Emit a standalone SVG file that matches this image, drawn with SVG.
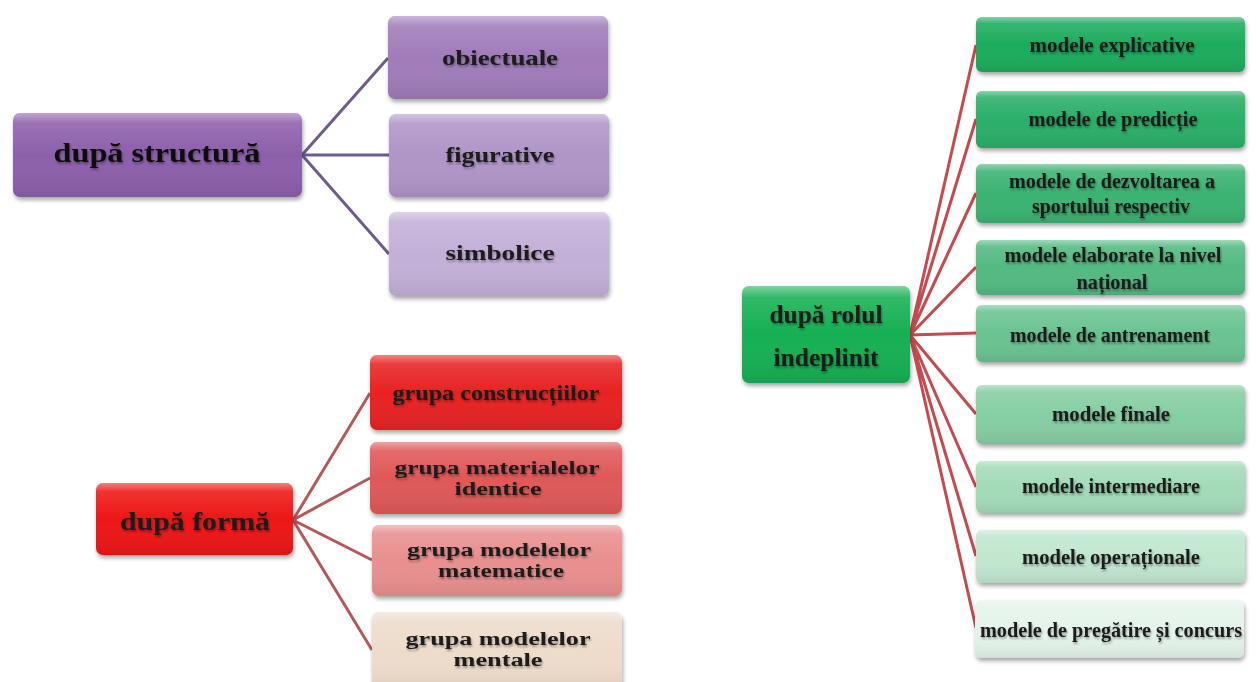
<svg xmlns="http://www.w3.org/2000/svg" width="1256" height="682" viewBox="0 0 1256 682">
<defs>
<linearGradient id="gloss" x1="0" y1="0" x2="0" y2="1">
<stop offset="0" stop-color="#fff" stop-opacity="0.45"/>
<stop offset="0.12" stop-color="#fff" stop-opacity="0.12"/>
<stop offset="0.5" stop-color="#fff" stop-opacity="0"/>
<stop offset="1" stop-color="#000" stop-opacity="0.08"/>
</linearGradient>
<filter id="sh" x="-10%" y="-10%" width="120%" height="130%">
<feGaussianBlur in="SourceAlpha" stdDeviation="2"/>
<feOffset dx="1" dy="3" result="b"/>
<feComponentTransfer><feFuncA type="linear" slope="0.35"/></feComponentTransfer>
<feMerge><feMergeNode/><feMergeNode in="SourceGraphic"/></feMerge>
</filter>
<filter id="tsh" x="-5%" y="-20%" width="110%" height="140%">
<feGaussianBlur in="SourceAlpha" stdDeviation="1"/>
<feOffset dx="1" dy="1.5"/>
<feComponentTransfer><feFuncA type="linear" slope="0.35"/></feComponentTransfer>
<feMerge><feMergeNode/><feMergeNode in="SourceGraphic"/></feMerge>
</filter>
</defs>
<style>
text{font-family:"Liberation Serif","Times New Roman",serif;font-weight:bold;fill:#1a1a1a;text-anchor:middle;filter:url(#tsh)}
.root{font-size:28px;fill:#111}
.c{font-size:22px}
.c2{font-size:18px}
.g{font-size:21px}
.box{filter:url(#sh)}
.gl{fill:url(#gloss)}
.lp{stroke:#6f5b8c;stroke-width:3;fill:none}
.lr{stroke:#b45858;stroke-width:3;fill:none}
.lg{stroke:#c44a4e;stroke-width:3;fill:none}
</style>
<rect width="1256" height="682" fill="#fff"/>

<g id="connectors">
<path class="lp" d="M302 155 L388 58 M302 155 L389 155 M302 155 L389 254"/>
<path class="lr" d="M293 520 L370 393 M293 520 L370 478 M293 520 L372 560 M293 520 L372 650"/>
<path class="lg" d="M910 335 L976 45 M910 335 L976 119 M910 335 L976 193 M910 335 L976 267 M910 335 L976 333 M910 335 L976 414 M910 335 L976 487 M910 335 L976 556 M910 335 L976 628"/>
</g>

<g id="n-structura">
<rect class="box" x="13" y="113" width="289" height="84" rx="7" fill="#8c5fab"/>
<rect class="gl" x="13" y="113" width="289" height="84" rx="7"/>
<text class="root" x="157" y="162" textLength="207" lengthAdjust="spacingAndGlyphs">după structură</text>
</g>
<g id="n-obiectuale">
<rect class="box" x="388" y="16" width="220" height="83" rx="7" fill="#a07bb9"/>
<rect class="gl" x="388" y="16" width="220" height="83" rx="7"/>
<text class="c" x="500" y="65" textLength="116" lengthAdjust="spacingAndGlyphs">obiectuale</text>
</g>
<g id="n-figurative">
<rect class="box" x="389" y="114" width="220" height="83" rx="7" fill="#b095c8"/>
<rect class="gl" x="389" y="114" width="220" height="83" rx="7"/>
<text class="c" x="500" y="162" textLength="109" lengthAdjust="spacingAndGlyphs">figurative</text>
</g>
<g id="n-simbolice">
<rect class="box" x="389" y="212" width="220" height="84" rx="7" fill="#c3b0d8"/>
<rect class="gl" x="389" y="212" width="220" height="84" rx="7"/>
<text class="c" x="500" y="260" textLength="109" lengthAdjust="spacingAndGlyphs">simbolice</text>
</g>

<g id="n-forma">
<rect class="box" x="96" y="483" width="197" height="72" rx="7" fill="#ee1616"/>
<rect class="gl" x="96" y="483" width="197" height="72" rx="7"/>
<text class="c" x="195" y="530" style="font-size:25px" textLength="150" lengthAdjust="spacingAndGlyphs">după formă</text>
</g>
<g id="n-constructiilor">
<rect class="box" x="370" y="355" width="252" height="75" rx="7" fill="#e82424"/>
<rect class="gl" x="370" y="355" width="252" height="75" rx="7"/>
<text class="c" x="496" y="400" textLength="207" lengthAdjust="spacingAndGlyphs">grupa construcțiilor</text>
</g>
<g id="n-materialelor">
<rect class="box" x="370" y="442" width="252" height="72" rx="7" fill="#e05858"/>
<rect class="gl" x="370" y="442" width="252" height="72" rx="7"/>
<text class="c2" x="497" y="474" textLength="205" lengthAdjust="spacingAndGlyphs">grupa materialelor</text>
<text class="c2" x="498" y="495" textLength="87" lengthAdjust="spacingAndGlyphs">identice</text>
</g>
<g id="n-matematice">
<rect class="box" x="372" y="525" width="250" height="71" rx="7" fill="#e98f8f"/>
<rect class="gl" x="372" y="525" width="250" height="71" rx="7"/>
<text class="c2" x="499" y="556" textLength="184" lengthAdjust="spacingAndGlyphs">grupa modelelor</text>
<text class="c2" x="501" y="577" textLength="126" lengthAdjust="spacingAndGlyphs">matematice</text>
</g>
<g id="n-mentale">
<rect class="box" x="372" y="612" width="250" height="80" rx="7" fill="#eedccb"/>
<rect class="gl" x="372" y="612" width="250" height="80" rx="7"/>
<text class="c2" x="498" y="645" textLength="185" lengthAdjust="spacingAndGlyphs">grupa modelelor</text>
<text class="c2" x="498" y="666" textLength="89" lengthAdjust="spacingAndGlyphs">mentale</text>
</g>

<g id="n-rolul">
<rect class="box" x="742" y="286" width="168" height="97" rx="7" fill="#14b052"/>
<rect class="gl" x="742" y="286" width="168" height="97" rx="7"/>
<text class="c" x="826" y="323" style="font-size:25px" textLength="113" lengthAdjust="spacingAndGlyphs">după rolul</text>
<text class="c" x="826" y="366" style="font-size:25px" textLength="105" lengthAdjust="spacingAndGlyphs">indeplinit</text>
</g>
<g id="n-explicative">
<rect class="box" x="976" y="17" width="269" height="55" rx="6" fill="#1dac5d"/>
<rect class="gl" x="976" y="17" width="269" height="55" rx="6"/>
<text class="g" x="1112" y="52" textLength="165" lengthAdjust="spacingAndGlyphs">modele explicative</text>
</g>
<g id="n-predictie">
<rect class="box" x="976" y="91" width="269" height="57" rx="6" fill="#2aaf67"/>
<rect class="gl" x="976" y="91" width="269" height="57" rx="6"/>
<text class="g" x="1113" y="126" textLength="169" lengthAdjust="spacingAndGlyphs">modele de predicție</text>
</g>
<g id="n-dezvoltarea">
<rect class="box" x="976" y="164" width="269" height="59" rx="6" fill="#3bb372"/>
<rect class="gl" x="976" y="164" width="269" height="59" rx="6"/>
<text class="g" x="1112" y="188" textLength="206" lengthAdjust="spacingAndGlyphs">modele de dezvoltarea a</text>
<text class="g" x="1111" y="213" textLength="158" lengthAdjust="spacingAndGlyphs">sportului respectiv</text>
</g>
<g id="n-elaborate">
<rect class="box" x="976" y="240" width="269" height="55" rx="6" fill="#53ba81"/>
<rect class="gl" x="976" y="240" width="269" height="55" rx="6"/>
<text class="g" x="1113" y="262" textLength="217" lengthAdjust="spacingAndGlyphs">modele elaborate la nivel</text>
<text class="g" x="1112" y="289" textLength="71" lengthAdjust="spacingAndGlyphs">național</text>
</g>
<g id="n-antrenament">
<rect class="box" x="976" y="305" width="269" height="57" rx="6" fill="#6bc391"/>
<rect class="gl" x="976" y="305" width="269" height="57" rx="6"/>
<text class="g" x="1110" y="342" textLength="200" lengthAdjust="spacingAndGlyphs">modele de antrenament</text>
</g>
<g id="n-finale">
<rect class="box" x="976" y="385" width="269" height="59" rx="6" fill="#86cea4"/>
<rect class="gl" x="976" y="385" width="269" height="59" rx="6"/>
<text class="g" x="1111" y="421" textLength="118" lengthAdjust="spacingAndGlyphs">modele finale</text>
</g>
<g id="n-intermediare">
<rect class="box" x="976" y="461" width="269" height="52" rx="6" fill="#a3dbb9"/>
<rect class="gl" x="976" y="461" width="269" height="52" rx="6"/>
<text class="g" x="1111" y="493" textLength="178" lengthAdjust="spacingAndGlyphs">modele intermediare</text>
</g>
<g id="n-operationale">
<rect class="box" x="976" y="530" width="269" height="53" rx="6" fill="#c1e7cf"/>
<rect class="gl" x="976" y="530" width="269" height="53" rx="6"/>
<text class="g" x="1111" y="564" textLength="178" lengthAdjust="spacingAndGlyphs">modele operaționale</text>
</g>
<g id="n-pregatire">
<rect class="box" x="975" y="600" width="269" height="58" rx="6" fill="#e5f4ea"/>
<rect class="gl" x="975" y="600" width="269" height="58" rx="6"/>
<text class="g" x="1111" y="637" textLength="262" lengthAdjust="spacingAndGlyphs">modele de pregătire și concurs</text>
</g>
</svg>
